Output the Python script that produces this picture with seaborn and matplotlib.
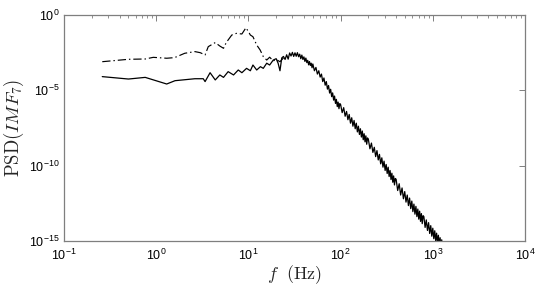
import numpy as np
import matplotlib
matplotlib.use("Agg")
import matplotlib.pyplot as plt
import matplotlib.ticker as mticker
import seaborn as sns

# ---- data (PSD given as log10 values) ----
solid_freq = [0.26, 0.50, 0.76, 1.30, 1.60, 2.63, 3.24, 3.39, 3.84, 4.37, 4.90, 5.37,
              6.03, 6.90, 7.76, 8.50, 9.55, 10.5, 11.2, 12.3, 13.5, 14.5, 15.8, 17.0, 18.6,
              20, 21, 22, 23, 24, 25, 26, 27, 28, 29, 30, 31, 32, 33, 34, 35, 36, 37, 38, 39,
              40, 41, 42, 43, 44, 45, 46, 47, 48, 49,
              50, 52, 54, 56, 58, 60, 62, 64, 66, 68, 70, 72, 74, 76, 78, 80, 82, 84, 86, 88,
              90, 92, 94, 96, 98,
              100, 104, 108, 112, 116, 120, 124, 128, 132, 136, 140, 144, 148, 152, 156, 160,
              164, 168, 172, 176, 180, 184, 188, 192, 196,
              200, 208, 216, 224, 232, 240, 248, 256, 264, 272, 280, 288, 296, 304, 312, 320,
              328, 336, 344, 352, 360, 368, 376, 384, 392,
              400, 416, 432, 448, 464, 480, 496, 512, 528, 544, 560, 576, 592, 608, 624, 640,
              656, 672, 688, 704, 720, 736, 752, 768, 784,
              800, 825, 850, 875, 900, 925, 950, 975, 1000, 1025, 1050, 1075, 1100, 1125,
              1150, 1175, 1200, 1225, 1250, 1275, 1300, 1325, 1350]
solid_log_psd = [-4.09, -4.25, -4.14, -4.58, -4.36, -4.23, -4.23, -4.42, -3.83, -4.31, -3.98, -4.14,
                 -3.76, -3.98, -3.65, -3.83, -3.54, -3.70, -3.32, -3.65, -3.43, -3.54, -3.20, -3.32, -2.99,
                 -2.90, -3.20, -3.70, -2.85, -2.75, -2.95, -2.64, -2.93, -2.52, -2.72, -2.48, -2.75,
                 -2.51, -2.74, -2.50, -2.77, -2.60, -2.90, -2.66, -2.95,
                 -2.78, -3.08, -2.86, -3.16, -3.01, -3.31, -3.09, -3.35, -3.20, -3.50,
                 -3.25, -3.70, -3.48, -3.92, -3.70, -4.12, -3.92, -4.42, -4.18, -4.66, -4.42, -4.92,
                 -4.68, -5.18, -4.93, -5.42, -5.17, -5.65, -5.38, -5.87, -5.60, -6.08, -5.78, -6.22, -5.88,
                 -5.94, -6.48, -6.15, -6.72, -6.40, -6.95, -6.60, -7.18, -6.82, -7.38, -7.00, -7.55,
                 -7.18, -7.76, -7.38, -7.93, -7.55, -8.10, -7.70, -8.28, -7.88, -8.42, -8.02, -8.58, -8.16,
                 -8.25, -8.88, -8.50, -9.12, -8.78, -9.40, -9.00, -9.62, -9.25, -9.88, -9.48, -10.10,
                 -9.70, -10.32, -9.92, -10.52, -10.10, -10.72, -10.32, -10.92, -10.50, -11.10, -10.68,
                 -11.28, -10.85,
                 -10.90, -11.65, -11.20, -11.95, -11.48, -12.20, -11.72, -12.42, -11.95, -12.65,
                 -12.15, -12.85, -12.35, -13.05, -12.55, -13.22, -12.70, -13.38, -12.88, -13.55,
                 -13.02, -13.70, -13.18, -13.85, -13.32,
                 -13.38, -14.10, -13.60, -14.30, -13.78, -14.50, -13.98, -14.68, -14.15, -14.85,
                 -14.32, -15.00, -14.48, -15.15, -14.62, -15.30, -14.78, -15.45, -14.92, -15.60,
                 -15.05, -15.72, -15.18]

dash_freq = [0.26, 0.50, 0.76, 0.93, 1.30, 1.58, 2.04, 2.63, 3.00, 3.39, 3.67, 4.37, 4.90,
             5.37, 5.75, 6.60, 7.40, 8.50, 9.40, 10.0, 10.5, 11.2, 12.3, 13.4, 14.5, 15.8,
             17.0, 18.6, 20.0, 22.0, 24.0]
dash_log_psd = [-3.10, -2.94, -2.92, -2.81, -2.87, -2.83, -2.54, -2.43, -2.50, -2.65, -2.10, -1.83,
                -2.06, -2.21, -1.83, -1.33, -1.22, -1.26, -0.85, -1.10, -1.33, -1.44, -1.99, -2.32,
                -2.76, -2.99, -2.80, -3.05, -2.95, -3.10, -2.85]

x_ticks = [1e-1, 1e0, 1e1, 1e2, 1e3, 1e4]
y_ticks = [1e-15, 1e-10, 1e-5, 1e0]

# ---- styling ----
sns.set_style("white")
plt.rcParams["font.family"] = ["Liberation Sans", "DejaVu Sans"]
plt.rcParams["mathtext.fontset"] = "custom"
plt.rcParams["mathtext.rm"] = "Liberation Sans"
plt.rcParams["mathtext.it"] = "Liberation Sans:italic"

fig = plt.figure(figsize=(5.4, 2.92), dpi=100)
ax = fig.add_axes([64 / 540, 1 - 241 / 292, (525 - 64) / 540, (241 - 15) / 292])
ax.set_xscale("log")
ax.set_yscale("log")

df_solid = {"f": np.array(solid_freq), "psd": 10.0 ** np.array(solid_log_psd)}
df_dash = {"f": np.array(dash_freq), "psd": 10.0 ** np.array(dash_log_psd)}

sns.lineplot(x=df_dash["f"], y=df_dash["psd"], ax=ax, color="black", lw=0.85,
             estimator=None, sort=False, linestyle=(0, (7.0, 2.5, 1.2, 2.5)))
sns.lineplot(x=df_solid["f"], y=df_solid["psd"], ax=ax, color="black", lw=0.9,
             estimator=None, sort=False)

ax.set_xlim(1e-1, 1e4)
ax.set_ylim(1e-15, 1e0)
ax.set_xticks(x_ticks)
ax.set_yticks(y_ticks)
ax.xaxis.set_minor_locator(mticker.LogLocator(base=10, subs=np.arange(2, 10)))
ax.yaxis.set_minor_locator(mticker.NullLocator())
ax.xaxis.set_major_formatter(mticker.LogFormatterSciNotation())
ax.yaxis.set_major_formatter(mticker.LogFormatterSciNotation())

gray = "#7f7f7f"
for s in ax.spines.values():
    s.set_visible(True)
    s.set_color(gray)
    s.set_linewidth(0.9)
ax.tick_params(which="both", direction="in", top=True, right=True, color=gray,
               labelcolor="black", labelsize=9)
ax.tick_params(which="major", length=4, width=0.7)
ax.tick_params(which="minor", length=2.2, width=0.6)
ax.tick_params(axis="x", which="major", pad=5)
ax.tick_params(axis="y", which="major", pad=3)

ax.set_xlabel(r"$f\ \ (\mathrm{Hz})$", fontsize=13, math_fontfamily="cm", labelpad=0)
ax.set_ylabel(r"$\mathrm{PSD}(IMF_7)$", fontsize=13.5, math_fontfamily="cm", labelpad=2)

fig.savefig("out.png", dpi=100)
